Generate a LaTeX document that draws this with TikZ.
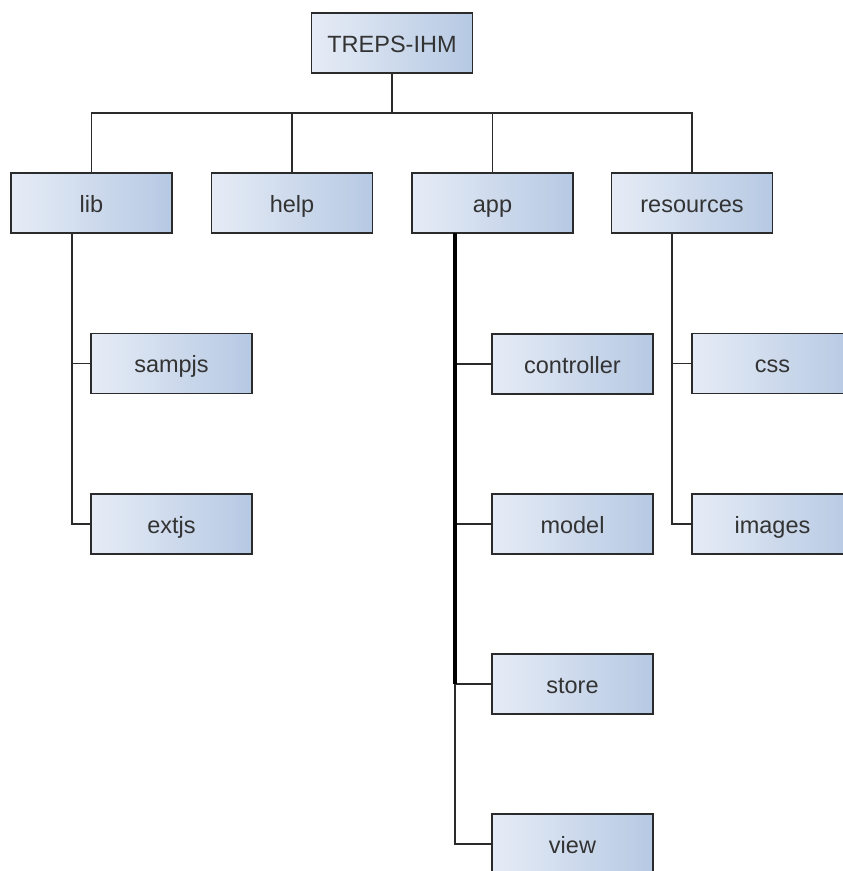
\documentclass[tikz,border=0pt]{standalone}
\usepackage{fontspec}
\setmainfont{Liberation Sans}
\definecolor{boxleft}{HTML}{E6ECF6}
\definecolor{boxright}{HTML}{B6C9E3}
\definecolor{edge}{HTML}{2B2B2B}
\definecolor{label}{HTML}{333333}
\begin{document}
\begin{tikzpicture}[x=1pt,y=-1pt,
  folder/.style={draw=edge, line width=1.7pt, left color=boxleft, right color=boxright,
    minimum width=161pt, minimum height=60pt, inner sep=0pt, text=label,
    text height=21pt, text depth=3pt,
    font=\fontsize{23.5}{27}\selectfont},
  link/.style={draw=edge, line width=1.7pt},
  spine/.style={draw=black, line width=3.2pt}]
\useasboundingbox (0,0) rectangle (843,871);

% root
\node[folder] (root) at (392,43) {TREPS-IHM};

% first level
\node[folder] (lib)  at (91.5,203) {lib};
\node[folder] (help) at (292,203)  {help};
\node[folder] (app)  at (492.5,203) {app};
\node[folder] (res)  at (692,203)  {resources};

% children of lib
\node[folder] (sampjs) at (171.5,363.5) {sampjs};
\node[folder] (extjs)  at (171.5,524)   {extjs};

% children of app
\node[folder] (ctrl)  at (572.5,364) {controller};
\node[folder] (model) at (572.5,524) {model};
\node[folder] (store) at (572.5,684) {store};
\node[folder] (view)  at (572.5,844) {view};

% children of resources
\node[folder] (css)    at (772.5,363.5) {css};
\node[folder] (images) at (772.5,524)   {images};

% bus under the root
\coordinate (bus) at (392,113);
\draw[link] (root.south) -- (bus);
\draw[link] (lib.north) |- (bus) -| (res.north);
\draw[link] (help.north) -- (help.north |- bus);
\draw[link] (app.north) -- (app.north |- bus);

% lib branch
\coordinate (libtop) at (72,233);
\draw[link] (libtop) |- (sampjs.west);
\draw[link] (libtop) |- (extjs.west);

% app branch
\coordinate (apptop) at (455,233);
\draw[link] (apptop) |- (ctrl.west);
\draw[link] (apptop) |- (model.west);
\draw[link] (apptop) |- (store.west);
\draw[link] (apptop) |- (view.west);
\draw[spine] (apptop) -- (apptop |- store.west);

% resources branch
\coordinate (restop) at (672,233);
\draw[link] (restop) |- (css.west);
\draw[link] (restop) |- (images.west);
\end{tikzpicture}
\end{document}
